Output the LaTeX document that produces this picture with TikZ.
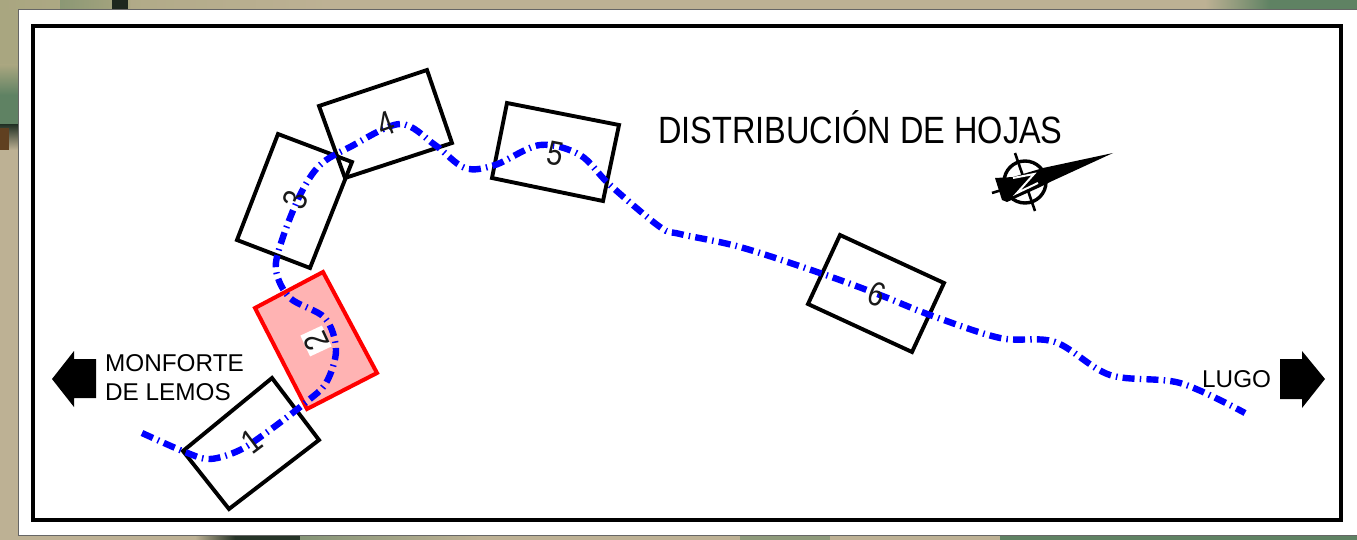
\documentclass[tikz,border=0pt]{standalone}
\usepackage{fontspec}
\setmainfont{Liberation Sans}
\usetikzlibrary{calc}
\definecolor{tan}{HTML}{BDB194}
\definecolor{olive}{HTML}{A9A680}
\definecolor{leaf}{HTML}{5F8263}
\definecolor{pinkfill}{HTML}{FFB3B3}
\tikzset{
  sheet/.style={x=1pt,y=-1pt},
  mapbox/.style={draw=black,line width=3.9pt,line join=miter},
  redbox/.style={draw=red,fill=pinkfill,line width=4pt,line join=miter},
  road/.style={draw=blue,line width=6.4pt,dash pattern=on 12pt off 5.2pt on 1.5pt off 5.2pt},
  digit/.style={inner sep=0pt,font=\fontsize{34}{34}\selectfont,text=black!90},
  sidelabel/.style={inner sep=0pt,font=\fontsize{24.3}{29}\selectfont,align=left,anchor=west},
  blockarrow/.style={fill=black,draw=none},
}
\newcommand{\narrow}[1]{\scalebox{.84}[1]{#1}}
\begin{document}
\begin{tikzpicture}[sheet]
\useasboundingbox (0,0) rectangle (1357,540);
% aerial photograph showing round the sheet
\fill[tan] (0,0) rectangle (1357,540);
\shade[left color=olive,right color=tan] (0,0) rectangle (330,10);
\shade[left color=leaf!40!olive,right color=olive] (60,0) rectangle (130,10);
\fill[black!70!leaf] (112,0) rectangle (128,10);
\shade[left color=tan,right color=leaf] (1205,0) rectangle (1270,10);
\fill[leaf] (1270,0) rectangle (1357,10);
\fill[olive] (0,10) rectangle (18,65);
\shade[top color=olive,bottom color=leaf] (0,65) rectangle (18,95);
\fill[leaf] (0,95) rectangle (18,125);
\shade[top color=leaf!40!black,bottom color=tan] (0,125) rectangle (18,150);
\fill[black!50!brown] (0,128) rectangle (9,150);
\shade[left color=tan,right color=black!60!leaf] (195,535) rectangle (235,540);
\fill[black!60!leaf] (235,535) rectangle (300,540);
\shade[left color=leaf!60!tan,right color=tan] (300,535) rectangle (480,540);
\fill[leaf!50!tan] (740,535) rectangle (830,540);
\fill[leaf] (1000,535) rectangle (1357,540);
% sheet and frame
\fill[white,draw=black!60,line width=1pt] (18,10) rectangle (1358,535);
\draw[black,line width=3.8pt] (33,26) rectangle (1341,520);
% sheet outlines
\draw[redbox] (323,272) -- (377,373) -- (307,409) -- (255,308) -- cycle;
\draw[mapbox] (272,378) -- (319,440) -- (229,509) -- (183,451) -- cycle;
\draw[mapbox] (278,134) -- (352,162) -- (310,268) -- (237,240) -- cycle;
\draw[mapbox] (319,106) -- (427,70) -- (452,143) -- (345,178) -- cycle;
\draw[mapbox] (507,103) -- (619,125) -- (603,201) -- (492,178) -- cycle;
\draw[mapbox] (840,235) -- (944,283) -- (912,352) -- (808,304) -- cycle;
% road
\draw[road] plot[smooth,tension=.55] coordinates {(142,433) (185,452) (210,459) (240,450) (270,430) (305,403) (326,383) (336,350) (325,318) (290,298) (276,270) (282,240) (300,195) (320,165) (350,147) (400,124) (435,145) (465,168) (495,165) (540,145) (580,155) (610,185) (660,227) (680,234) (740,247) (820,273) (880,295) (930,315) (1000,338) (1055,342) (1110,375) (1180,383) (1245,413)};
% sheet numbers
\node[digit,rotate=37] (n1) at (252,441) {\narrow{1}};
\node[digit,rotate=115,fill=white,minimum height=12pt,minimum width=23pt] (n2) at (316,341) {\narrow{2}};
\node[digit,rotate=69] (n3) at (295,200) {\narrow{3}};
\node[digit,rotate=20] (n4) at (386,124) {\narrow{4}};
\node[digit,rotate=-11] (n5) at (555,154) {\narrow{5}};
\node[digit,rotate=-20] (n6) at (877,294) {\narrow{6}};
% title and place names
\node[inner sep=0pt,font=\fontsize{38}{38}\selectfont] (title) at (860.5,127) {\scalebox{.855}[1]{DISTRIBUCIÓN DE HOJAS}};
\node[sidelabel] (monforte) at (105,378) {MONFORTE\\DE LEMOS};
\node[sidelabel] (lugo) at (1202,379) {LUGO};
% direction arrows
\fill[blockarrow] (52,379) -- (74,351) -- (74,359) -- (96,359) -- (96,398) -- (74,398) -- (74,407) -- cycle;
\fill[blockarrow] (1325,379) -- (1302,351) -- (1302,359) -- (1280,359) -- (1280,399) -- (1302,399) -- (1302,408) -- cycle;
% north mark
\draw[black,line width=3.4pt] (1025,182) circle (21);
\draw[black,line width=2.6pt] (1015,153) -- (1035,211);
\draw[black,line width=2.6pt] (992,193) -- (1040,178);
\fill[black] (1113,153) -- (1043,168) -- (1013,177) -- (995,178) -- (1002,200) -- (1007,202) -- (1038,188) -- (1050,182) -- cycle;
\draw[white,line width=2pt,line join=miter] (1013,178) -- (1034,174) -- (1017,193) -- (1038,183);
\end{tikzpicture}
\end{document}
